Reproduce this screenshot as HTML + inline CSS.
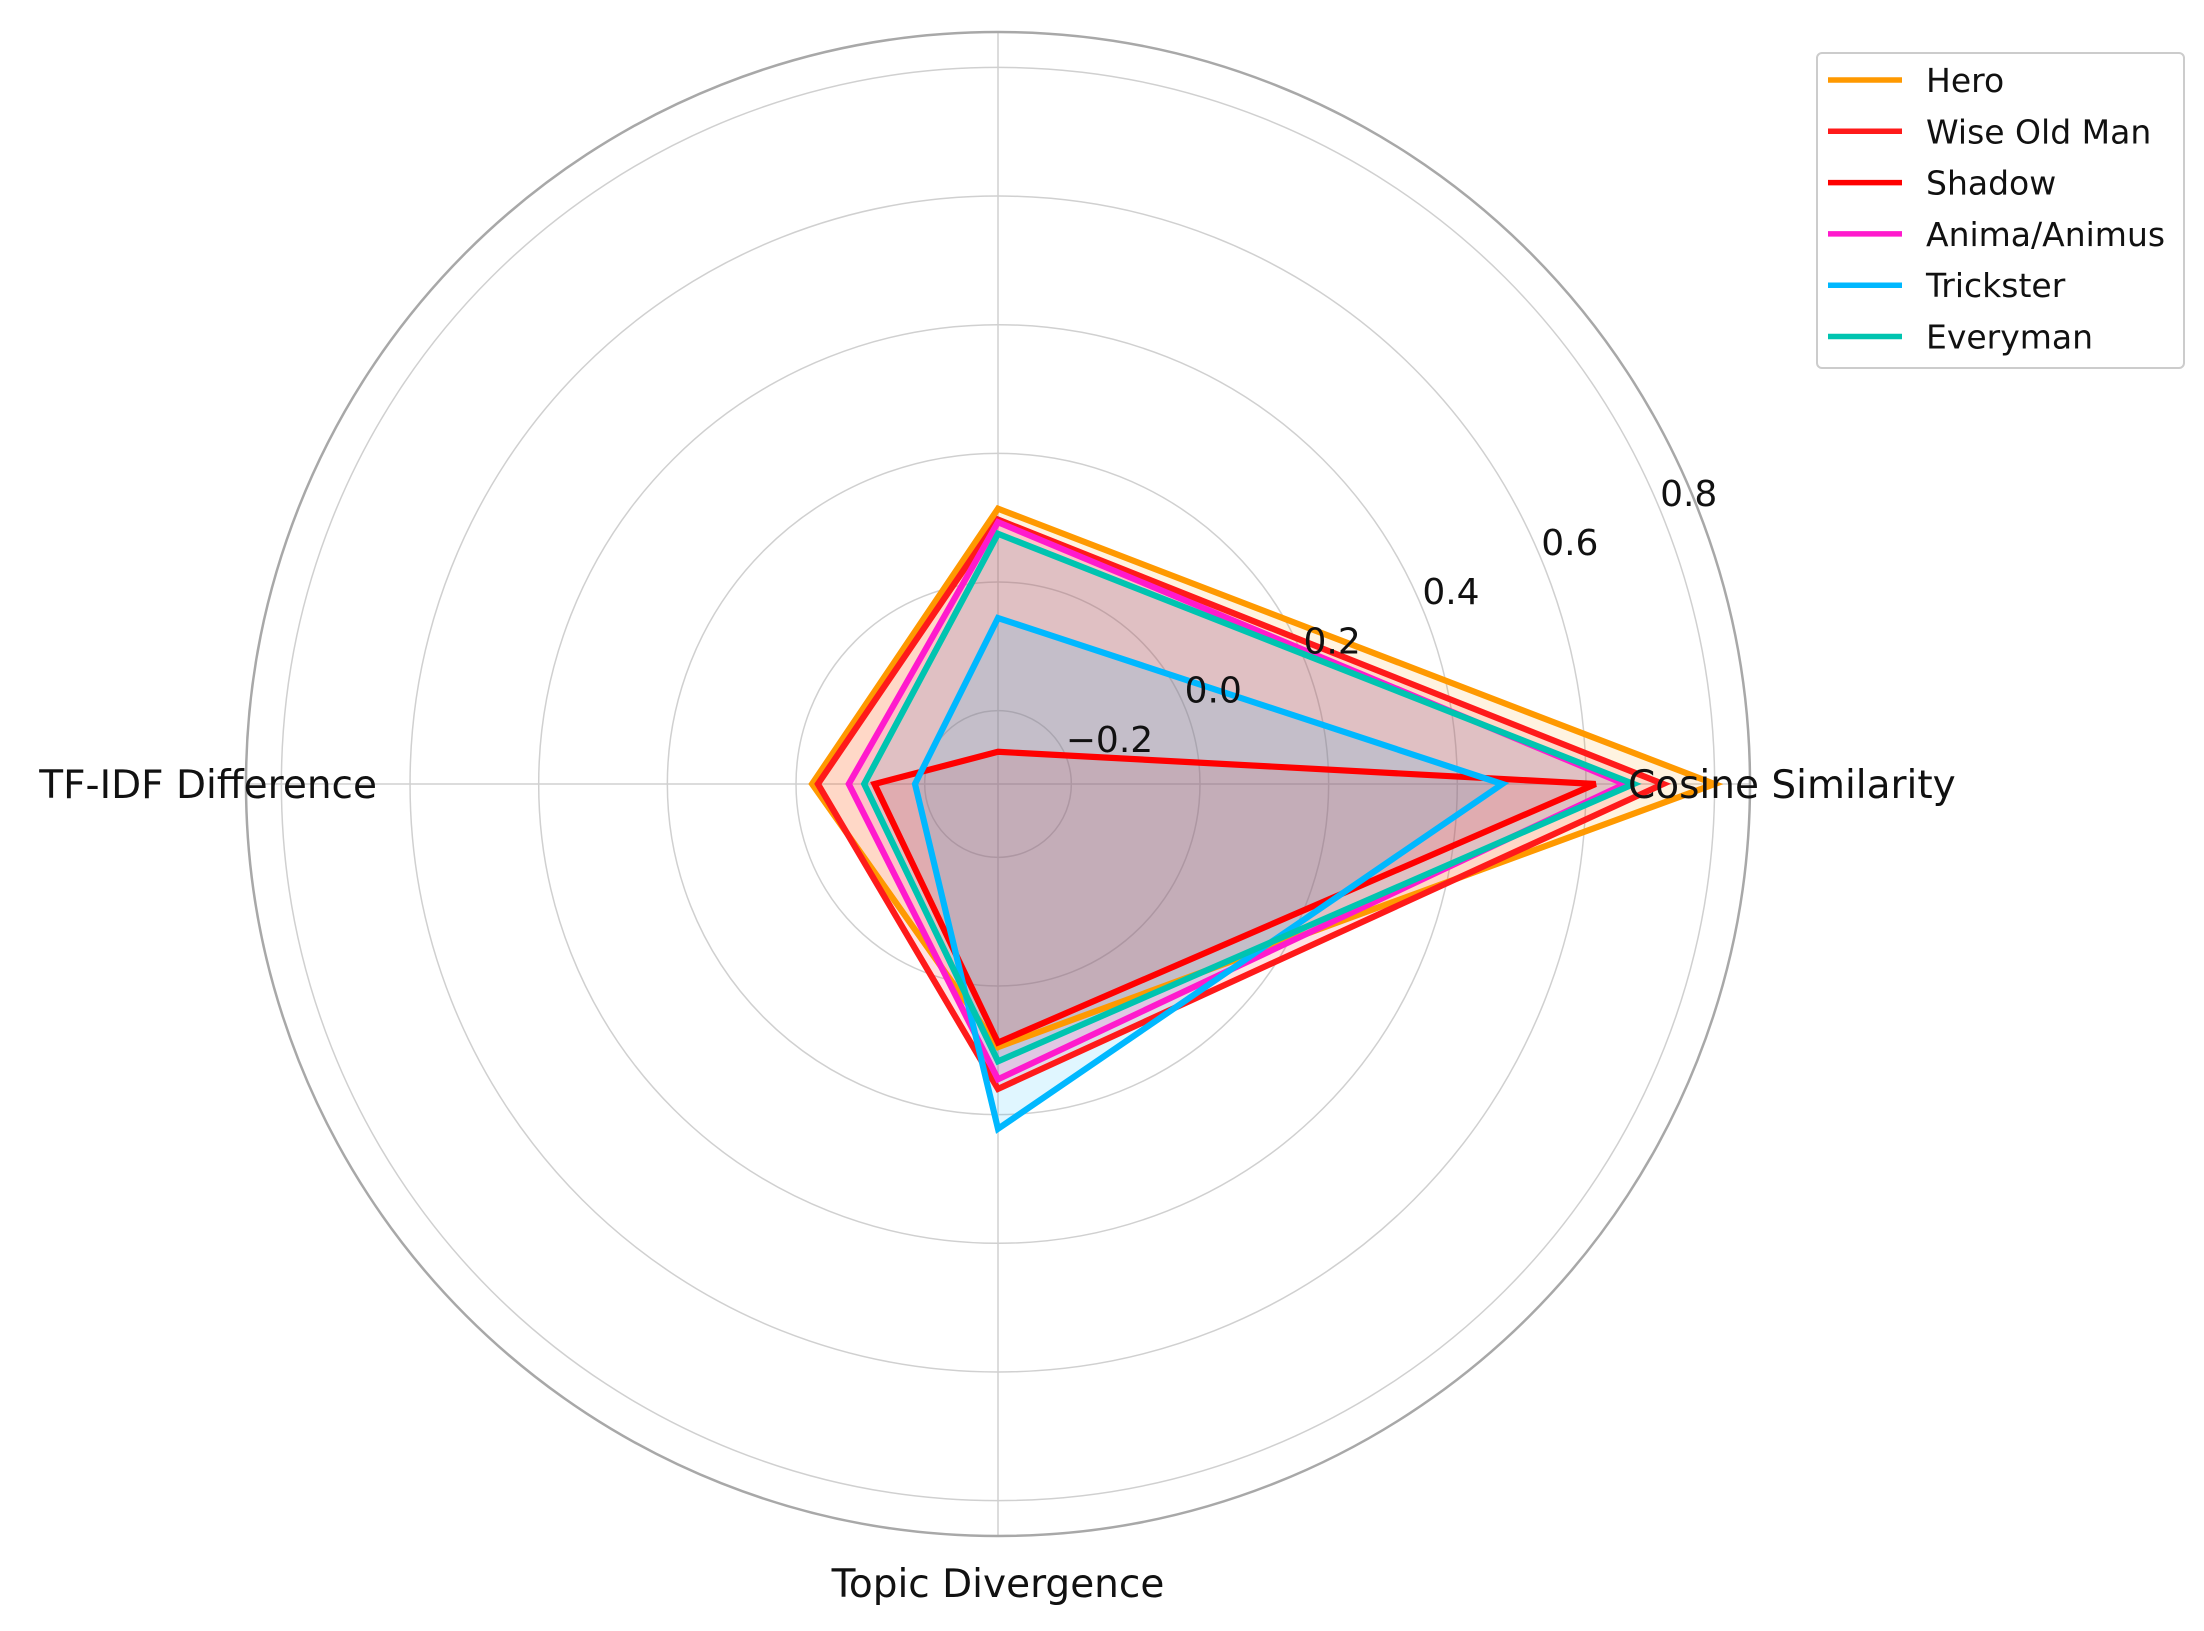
<!DOCTYPE html>
<html><head><meta charset="utf-8"><style>
html,body{margin:0;padding:0;background:#fff;}
svg{display:block;font-family:"DejaVu Sans","Liberation Sans",sans-serif;}
</style></head><body>
<svg id="chart" width="2204" height="1631" viewBox="0 0 2204 1631" xmlns="http://www.w3.org/2000/svg">
<g id="grid"></g>
<g id="series"></g>
<g id="labels"></g>
<g id="legend"></g>
</svg>
<script>
const categories = ["Cosine Similarity", "", "TF-IDF Difference", "Topic Divergence"];
const seriesNames = ["Hero", "Wise Old Man", "Shadow", "Anima/Animus", "Trickster", "Everyman"];
const seriesColors = ["#ff9900", "#ff1a1a", "#ff0000", "#ff1acd", "#00b8ff", "#00c4b0"];
const heroValues = [0.80, 0.114, -0.025, 0.095];
const wiseOldManValues = [0.72, 0.097, -0.034, 0.16];
const shadowValues = [0.615, -0.264, -0.122, 0.088];
const animaValues = [0.66, 0.093, -0.082, 0.145];
const tricksterValues = [0.47, -0.056, -0.185, 0.222];
const everymanValues = [0.674, 0.075, -0.106, 0.117];
const tickValues = [-0.2, 0.0, 0.2, 0.4, 0.6, 0.8];
const tickLabels = ["\u22120.2", "0.0", "0.2", "0.4", "0.6", "0.8"];
const rMin = -0.314, rMax = 0.855;

const allValues = [heroValues, wiseOldManValues, shadowValues, animaValues, tricksterValues, everymanValues];
const NS = "http://www.w3.org/2000/svg";
const cx = 998, cy = 784, R = 752;
function rScale(v){ return (v - rMin) / (rMax - rMin) * R; }
function ang(i){ return i * 2 * Math.PI / categories.length; }
function pt(i, v){ const r = rScale(v), a = ang(i); return [cx + r*Math.cos(a), cy - r*Math.sin(a)]; }
function mk(tag, attrs, parent){ const e = document.createElementNS(NS, tag); for (const k in attrs) e.setAttribute(k, attrs[k]); parent.appendChild(e); return e; }

const grid = document.getElementById('grid');
tickValues.forEach((v, i) => {
  const c = mk('circle', {cx: cx, cy: cy, r: rScale(v), fill: 'none', stroke: '#d0d0d0', 'stroke-width': 1.5}, grid);
  
  
});
categories.forEach((c, i) => {
  const p = pt(i, rMax);
  const l = mk('line', {x1: cx, y1: cy, x2: p[0], y2: p[1], stroke: '#d0d0d0', 'stroke-width': 1.5}, grid);
  
  
});
const outer = mk('circle', {cx: cx, cy: cy, r: R, fill: 'none', stroke: '#a8a8a8', 'stroke-width': 2.5}, grid);



const sg = document.getElementById('series');
allValues.forEach((vals, s) => {
  const pts = vals.map((v, i) => pt(i, v).map(n => n.toFixed(1)).join(',')).join(' ');
  const f = mk('polygon', {points: pts, fill: seriesColors[s], 'fill-opacity': 0.12, stroke: 'none'}, sg);
  
  
});
allValues.forEach((vals, s) => {
  const pts = vals.map((v, i) => pt(i, v).map(n => n.toFixed(1)).join(',')).join(' ');
  const p = mk('polygon', {points: pts, fill: 'none', stroke: seriesColors[s], 'stroke-width': 6.2, 'stroke-linejoin': 'miter'}, sg);
  
  
});

const lg = document.getElementById('labels');
const th = 22.5 * Math.PI / 180;
tickValues.forEach((v, i) => {
  const r = rScale(v);
  const t = mk('text', {x: cx + r*Math.cos(th), y: cy - r*Math.sin(th) - 4, 'font-size': 36, fill: '#111'}, lg);
  t.textContent = tickLabels[i];
  
  
});
const axl = [[1628, 798, 'start'], null, [377, 798, 'end'], [998, 1597, 'middle']];
categories.forEach((c, i) => {
  if (!c || !axl[i]) return;
  const t = mk('text', {x: axl[i][0], y: axl[i][1], 'font-size': 39, 'text-anchor': axl[i][2], fill: '#111'}, lg);
  t.textContent = c;
  
  
});

const leg = document.getElementById('legend');
const box = mk('rect', {x: 1817, y: 53, width: 367, height: 315, rx: 5, fill: '#fff', 'fill-opacity': 0.85, stroke: '#cccccc', 'stroke-width': 2}, leg);


seriesNames.forEach((n, i) => {
  const y = 80 + i * 51.3;
  const l = mk('line', {x1: 1828, y1: y, x2: 1902, y2: y, stroke: seriesColors[i], 'stroke-width': 5.5}, leg);
  
  
  const t = mk('text', {x: 1926, y: y + 12, 'font-size': 33, fill: '#111'}, leg);
  t.textContent = n;
  
  
});
</script>
</body></html>
